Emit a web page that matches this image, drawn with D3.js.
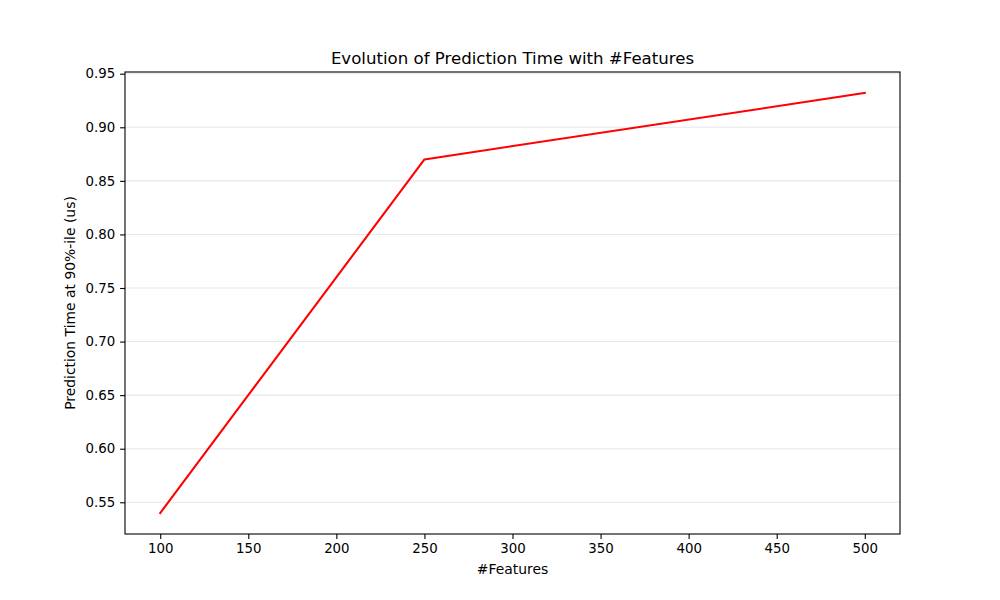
<script src="https://cdn.jsdelivr.net/npm/d3@7"></script>
<style>
	body { margin:0; background:#fff; }
	text { font-family:"DejaVu Sans", sans-serif; fill:#000; }
</style>
<svg id="svgelement" width="1000" height="600"></svg>
<script>
	var width = 1000;
	var height = 600;
	var margin = {left:125, right:100, top:72, bottom:66};

	var features = [100, 250, 500];
	var predTime = [0.540, 0.870, 0.932];
	var xTicks = [100, 150, 200, 250, 300, 350, 400, 450, 500];
	var yTicks = [0.55, 0.60, 0.65, 0.70, 0.75, 0.80, 0.85, 0.90, 0.95];

	var svg = d3.select("#svgelement");
	var plotW = width - margin.left - margin.right;
	var plotH = height - margin.top - margin.bottom;

	// matplotlib style 5% padding around data
	var xr = d3.extent(features), yr = d3.extent(predTime);
	var xp = (xr[1]-xr[0])*0.05, yp = (yr[1]-yr[0])*0.05;
	var x = d3.scaleLinear().domain([xr[0]-xp, xr[1]+xp]).range([0, plotW]);
	var y = d3.scaleLinear().domain([yr[0]-yp, yr[1]+yp]).range([plotH, 0]);

	var g = svg.append("g").attr("transform","translate("+margin.left+","+margin.top+")");

	// horizontal grid
	g.selectAll("line.grid")
		.data(yTicks)
		.enter()
		.append("line")
		.attr("class","grid")
		.attr("x1",0)
		.attr("x2",plotW)
		.attr("y1",function(d){return y(d);})
		.attr("y2",function(d){return y(d);})
		.attr("stroke","#b0b0b0")
		.attr("stroke-opacity",0.3)
		.attr("stroke-width",1.1);

	var line = d3.line()
		.x(function(d,i){return x(features[i]);})
		.y(function(d){return y(d);});

	g.append("path")
		.datum(predTime)
		.attr("d",line)
		.attr("fill","none")
		.attr("stroke","#ff0000")
		.attr("stroke-width",2.08)
		.attr("stroke-linejoin","round")
		.attr("stroke-linecap","square");

	var xAxis = g.append("g")
		.attr("transform","translate(0,"+plotH+")")
		.call(d3.axisBottom(x).tickValues(xTicks).tickSize(4.9).tickPadding(4.9).tickFormat(d3.format("d")));
	var yAxis = g.append("g")
		.call(d3.axisLeft(y).tickValues(yTicks).tickSize(4.9).tickPadding(4.9).tickFormat(d3.format(".2f")));

	[xAxis, yAxis].forEach(function(a){
		a.select(".domain").remove();
		a.selectAll("text").attr("font-size","13.33px").attr("font-family","DejaVu Sans, sans-serif");
		a.selectAll("line").attr("stroke","#000").attr("stroke-width",1.1);
	});

	g.append("rect")
		.attr("width",plotW)
		.attr("height",plotH)
		.attr("fill","none")
		.attr("stroke","#000")
		.attr("stroke-width",1.1);

	svg.append("text")
		.attr("x",margin.left+plotW/2)
		.attr("y",margin.top-8)
		.attr("text-anchor","middle")
		.attr("font-size","16.6px")
		.text("Evolution of Prediction Time with #Features");

	svg.append("text")
		.attr("x",margin.left+plotW/2)
		.attr("y",574)
		.attr("text-anchor","middle")
		.attr("font-size","13.9px")
		.text("#Features");

	svg.append("text")
		.attr("transform","translate(75,"+(margin.top+plotH/2)+") rotate(-90)")
		.attr("text-anchor","middle")
		.attr("font-size","13.9px")
		.text("Prediction Time at 90%-ile (us)");
</script>
